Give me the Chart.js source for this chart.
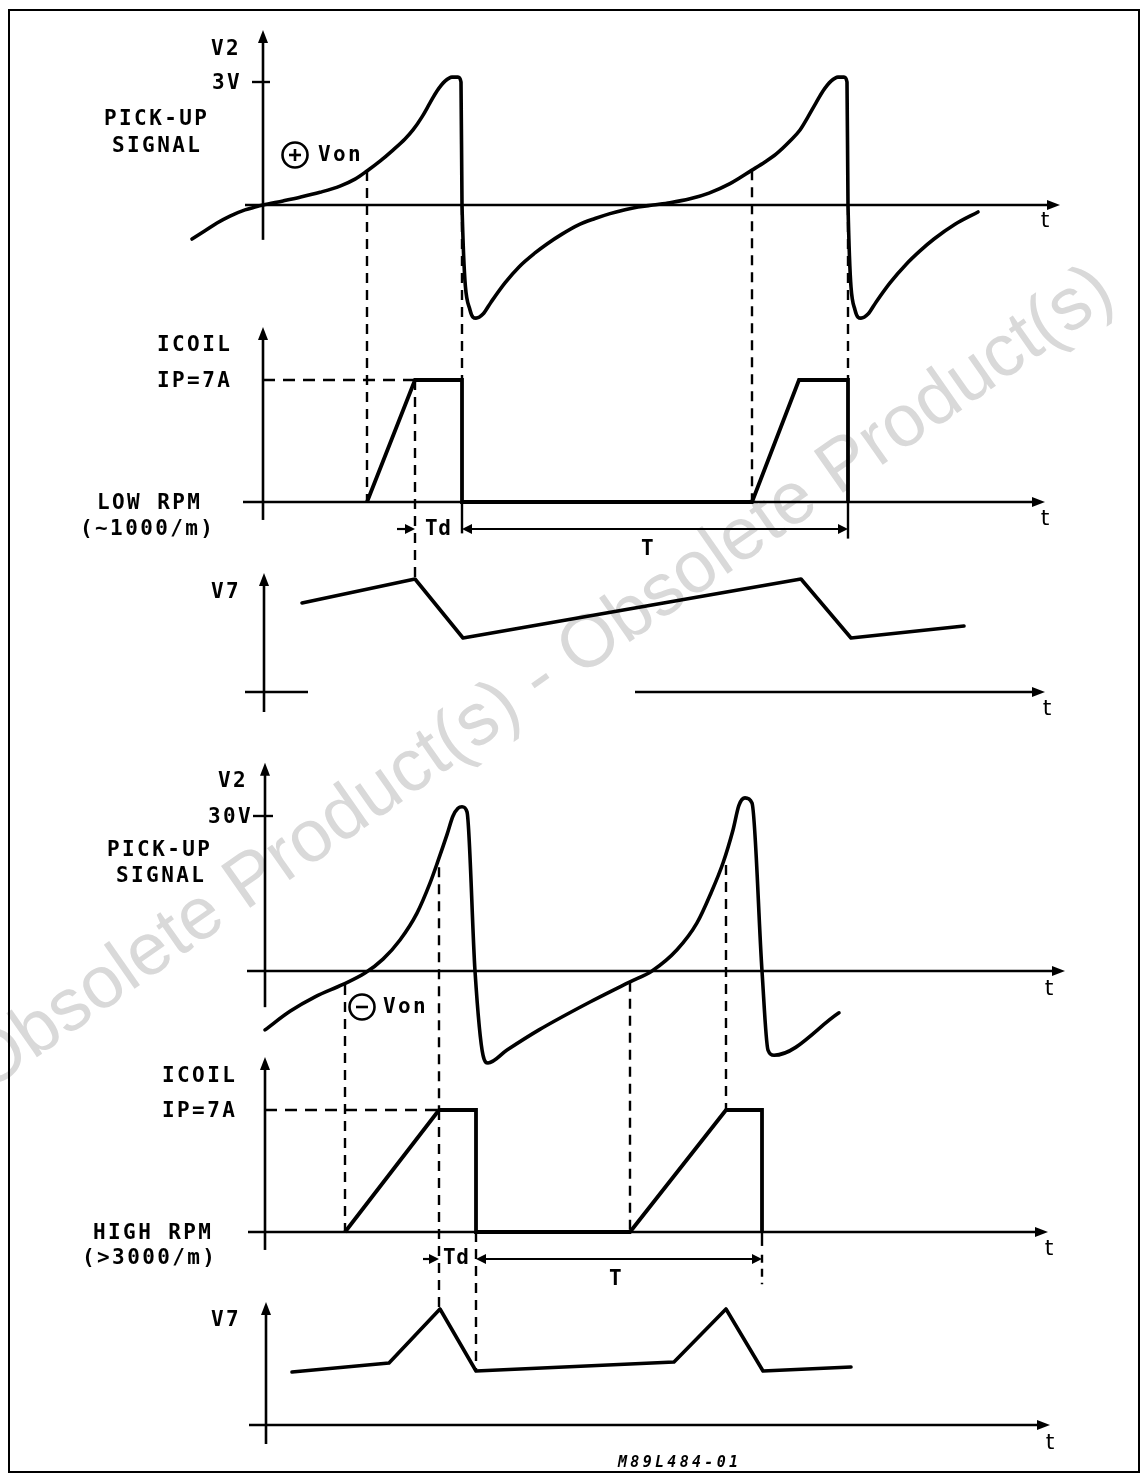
<!DOCTYPE html>
<html><head><meta charset="utf-8">
<script src="https://cdn.jsdelivr.net/npm/chart.js@4.4.1/dist/chart.umd.min.js"></script>
<style>html,body{margin:0;padding:0;background:#fff;overflow:hidden}canvas{display:block}</style>
</head><body>
<canvas id="c" width="1148" height="1480"></canvas>
<script>
// ---------- DATA (time in arbitrary units, t = 0 at the vertical axes) ----------
// LOW RPM (~1000/m)
const lowPickupT = [-71,-58,-46,-33,-18,-8,0,20,37,57,77,92,104,117,130,142,150,159,167,174,182,189,195,198,199,207,213,220,228,242,256,272,284,299,315,332,347,362,375,390,407,427,446,467,489,502,513,527,537,545,553,560,568,575,581,584,585,592,598,605,613,627,643,657,671,692,715];
const lowPickupV = [-0.83,-0.63,-0.44,-0.27,-0.12,-0.05,0,0.10,0.19,0.31,0.46,0.63,0.83,1.07,1.34,1.61,1.83,2.15,2.49,2.78,3.02,3.12,3.12,3.0,0,-2.56,-2.76,-2.66,-2.37,-1.90,-1.51,-1.17,-0.95,-0.71,-0.49,-0.33,-0.21,-0.115,-0.05,0,0.055,0.15,0.29,0.52,0.85,1.05,1.24,1.56,1.83,2.15,2.49,2.78,3.02,3.12,3.12,3.0,0,-2.56,-2.76,-2.66,-2.37,-1.90,-1.45,-1.12,-0.83,-0.47,-0.17];
const lowCoilT = [104,152,199,199,489,536,585,585];
const lowCoilA = [0,7,7,0,0,7,7,0];
const lowV7T = [39,152,200,538,588,701];
const lowV7 = [8.9,11.3,5.4,11.3,5.4,6.6];
const lowVonT = [104,489];
const lowVonV = [0.83,0.85];
const lowLimitT = [152,536];
const lowFireT = [199,585];

// HIGH RPM (>3000/m)
const highPickupT = [2,27,52,80,102,120,137,154,167,175,184,190,195,199,204,212,220,225,244,276,327,367,389,414,434,448,460,470,476,482,489,499,505,511,576];
const highPickupV = [-11.4,-7.8,-5.0,-2.6,-0.4,2.3,6.0,11.2,17.0,21.3,26.4,30.0,31.5,31.8,30.8,0,-16.3,-17.8,-15.3,-11.4,-6.0,-2.1,0,4.1,9.3,15.1,20.9,27.3,32.1,33.5,32.5,0,-15.3,-16.3,-8.1];
const highCoilT = [82,176,213,213,367,463,499,499];
const highCoilA = [0,7,7,0,0,7,7,0];
const highV7T = [29,126,177,213,411,463,500,588];
const highV7 = [5.3,6.2,11.6,5.4,6.3,11.6,5.4,5.8];
const highVonT = [82,367];
const highVonV = [-2.7,-2.1];
const highLimitT = [176,463];
const highLimitV = [20.1,20.5];
const highFireT = [213,499];

// tick values / labels
const lowPickupTick = 3, lowPickupTickLabel = '3V';
const highPickupTick = 30, highPickupTickLabel = '30V';
const coilPeak = 7, coilPeakLabel = 'IP=7A';

// ---------- LAYOUT ----------
const W = 1148, H = 1480, T0PX = 263;
const panel = {
  p1:{base:205,k:41}, c1:{base:502,k:17.43}, v1:{base:692,k:10},
  p2:{base:971,k:5.167}, c2:{base:1232,k:17.43}, v2:{base:1425,k:10}
};
function rng(p){return {min:-(H-p.base)/p.k, max:p.base/p.k};}
function pts(xs,ys){return xs.map((x,i)=>({x:x,y:ys[i]}));}

const line = (data, axis, opts) => Object.assign({
  data, yAxisID:axis, xAxisID:'x', showLine:true, borderColor:'#000', backgroundColor:'#000',
  borderWidth:3.6, pointRadius:0, tension:0, borderCapStyle:'round', borderJoinStyle:'round', fill:false
}, opts||{});

const datasets = [
  line(pts(lowPickupT,lowPickupV),'p1',{cubicInterpolationMode:'monotone'}),
  line(pts(lowCoilT,lowCoilA),'c1',{borderJoinStyle:'miter',borderCapStyle:'butt',borderWidth:3.8}),
  line(pts(lowV7T,lowV7),'v1'),
  line(pts(highPickupT,highPickupV),'p2',{cubicInterpolationMode:'monotone'}),
  line(pts(highCoilT,highCoilA),'c2',{borderJoinStyle:'miter',borderCapStyle:'butt',borderWidth:3.8}),
  line(pts(highV7T,highV7),'v2')
];

// ---------- DRAW HELPERS ----------
function arrow(ctx,x,y,dir,len,half){
  len=len||12; half=half||5;
  ctx.save(); ctx.fillStyle='#000'; ctx.beginPath();
  if(dir==='up'){ctx.moveTo(x,y);ctx.lineTo(x-half,y+len);ctx.lineTo(x+half,y+len);}
  else if(dir==='right'){ctx.moveTo(x,y);ctx.lineTo(x-len,y-half);ctx.lineTo(x-len,y+half);}
  else if(dir==='left'){ctx.moveTo(x,y);ctx.lineTo(x+len,y-half);ctx.lineTo(x+len,y+half);}
  ctx.closePath(); ctx.fill(); ctx.restore();
}
function seg(ctx,x1,y1,x2,y2,w,dash){
  ctx.save(); ctx.strokeStyle='#000'; ctx.lineWidth=w||2.5; ctx.lineCap='butt';
  ctx.setLineDash(dash||[]); ctx.beginPath(); ctx.moveTo(x1,y1); ctx.lineTo(x2,y2); ctx.stroke(); ctx.restore();
}
function txt(ctx,s,x,y,font,spacing,align){
  ctx.save(); ctx.fillStyle='#000'; ctx.font=font; ctx.letterSpacing=(spacing||0)+'px';
  ctx.textAlign=align||'left'; ctx.textBaseline='middle'; ctx.fillText(s,x,y); ctx.restore();
}
const F = 'bold 21px "DejaVu Sans Mono"';
const FT = '22px "DejaVu Sans"';
const DASH = [10,7];

const diagram = {
  id:'diagram',
  beforeDatasetsDraw(chart){
    const ctx = chart.ctx, sx = chart.scales.x;
    const X = t => sx.getPixelForValue(t);
    const Y = (id,v) => chart.scales[id].getPixelForValue(v);
    // watermark
    ctx.save();
    ctx.translate(540,680); ctx.rotate(-35*Math.PI/180);
    ctx.fillStyle='#d9d9d9'; ctx.font='74px "Liberation Sans"'; ctx.textAlign='center'; ctx.textBaseline='middle';
    ctx.fillText('Obsolete Product(s) - Obsolete Product(s)',0,0);
    ctx.restore();

    // axes: [panel, axisT, vBottom, vTop, horizontal ranges]
    const axes = [
      ['p1',0,-0.85,4.27,[[-18,797]]],
      ['c1',0,-1.03,10.04,[[-20,782]]],
      ['v1',1,-2.0,11.9,[[-18,45],[372,782]]],
      ['p2',2,-7.0,40.3,[[-16,802]]],
      ['c2',2,-1.03,10.04,[[-15,785]]],
      ['v2',3,-1.9,12.3,[[-14,787]]]
    ];
    axes.forEach(a=>{
      const id=a[0], ax=X(a[1]);
      seg(ctx,ax,Y(id,a[2]),ax,Y(id,a[3])+8,2.6);
      arrow(ctx,ax,Y(id,a[3]),'up',13,5);
      a[4].forEach((r,i)=>{
        const last = i===a[4].length-1;
        seg(ctx,X(r[0]),Y(id,0),X(r[1])-(last?8:0),Y(id,0),2.4);
        if(last) arrow(ctx,X(r[1]),Y(id,0),'right',13,5);
      });
    });
    // value ticks
    seg(ctx,X(-11),Y('p1',lowPickupTick),X(7),Y('p1',lowPickupTick),2.4);
    seg(ctx,X(-10),Y('p2',highPickupTick),X(10),Y('p2',highPickupTick),2.4);

    // dashed guides LOW
    seg(ctx,X(0),Y('c1',coilPeak),X(lowLimitT[0]),Y('c1',coilPeak),2.4,[12,8]);
    lowVonT.forEach((t,i)=>seg(ctx,X(t),Y('p1',lowVonV[i]),X(t),Y('c1',0),2.4,DASH));
    lowFireT.forEach(t=>seg(ctx,X(t),Y('p1',0),X(t),Y('c1',coilPeak),2.4,DASH));
    seg(ctx,X(lowLimitT[0]),Y('c1',coilPeak),X(lowLimitT[0]),Y('v1',lowV7[1]),2.4,DASH);

    // dashed guides HIGH
    seg(ctx,X(2),Y('c2',coilPeak),X(highLimitT[0]),Y('c2',coilPeak),2.4,[12,8]);
    highVonT.forEach((t,i)=>seg(ctx,X(t),Y('p2',highVonV[i]),X(t),Y('c2',0),2.4,DASH));
    highLimitT.forEach((t,i)=>seg(ctx,X(t),Y('p2',highLimitV[i]),X(t),Y('c2',coilPeak),2.4,DASH));
    seg(ctx,X(highLimitT[0]),Y('c2',coilPeak),X(highLimitT[0]),Y('v2',highV7[2]),2.4,DASH);
    seg(ctx,X(highFireT[0]),Y('c2',0),X(highFireT[0]),Y('v2',highV7[3]),2.4,DASH);
    seg(ctx,X(highFireT[1]),Y('c2',0),X(highFireT[1]),Y('c2',-0.8),2.4);
    seg(ctx,X(highFireT[1]),Y('c2',-1.3),X(highFireT[1]),Y('c2',-3.0),2.4,[8,6]);

    // Td / T markers
    const marks = [['c1',lowLimitT[0],lowFireT,18],['c2',highLimitT[0],highFireT,16]];
    marks.forEach(m=>{
      const id=m[0], yv=Y(id,-1.55);
      seg(ctx,X(m[1]-m[3]),yv,X(m[1])-8,yv,2.2);
      arrow(ctx,X(m[1]),yv,'right',10,5);
      seg(ctx,X(m[2][0])+8,yv,X(m[2][1])-8,yv,2.2);
      arrow(ctx,X(m[2][0]),yv,'left',10,5);
      arrow(ctx,X(m[2][1]),yv,'right',10,5);
    });
    seg(ctx,X(lowFireT[0]),Y('c1',0),X(lowFireT[0]),Y('c1',-1.8),2.4);
    seg(ctx,X(lowFireT[1]),Y('c1',0),X(lowFireT[1]),Y('c1',-2.1),2.4);
  },
  afterDatasetsDraw(chart){
    const ctx = chart.ctx;
    // circled signs
    [[295,155,'+'],[362,1007,'\u2212']].forEach(c=>{
      ctx.save(); ctx.strokeStyle='#000'; ctx.lineWidth=2.6; ctx.beginPath(); ctx.arc(c[0],c[1],12.5,0,Math.PI*2); ctx.stroke();
      seg(ctx,c[0]-6,c[1],c[0]+6,c[1],2.6);
      if(c[2]==='+') seg(ctx,c[0],c[1]-6,c[0],c[1]+6,2.6);
      ctx.restore();
    });
    const L = [
      ['V2',211,50],[lowPickupTickLabel,212,84],['PICK-UP',104,120],['SIGNAL',112,147],['Von',318,156],
      ['ICOIL',157,346],[coilPeakLabel,157,382],['LOW RPM',97,504],['(~1000/m)',80,530],
      ['V7',211,593],
      ['V2',218,782],[highPickupTickLabel,208,818],['PICK-UP',107,851],['SIGNAL',116,877],['Von',383,1008],
      ['ICOIL',162,1077],[coilPeakLabel,162,1112],['HIGH RPM',93,1234],['(>3000/m)',82,1259],
      ['V7',211,1321]
    ];
    L.forEach(l=>txt(ctx,l[0],l[1],l[2],F,2.4));
    txt(ctx,'Td',425,530,F,0.5); txt(ctx,'T',641,550,F,0);
    txt(ctx,'Td',443,1259,F,0.5); txt(ctx,'T',609,1280,F,0);
    [[1045,221],[1045,519],[1047,709],[1049,989],[1049,1249],[1050,1443]].forEach(p=>txt(ctx,'t',p[0],p[1],FT,0,'center'));
    txt(ctx,'M89L484-01',618,1463,'italic bold 15px "DejaVu Sans Mono"',3.3);
    // frame
    ctx.save(); ctx.strokeStyle='#000'; ctx.lineWidth=2; ctx.strokeRect(9,10,1130,1462); ctx.restore();
  }
};

const scales = {x:Object.assign({type:'linear',display:false},{min:-T0PX,max:W-T0PX})};
Object.keys(panel).forEach(k=>{scales[k]=Object.assign({type:'linear',display:false},rng(panel[k]));});

new Chart(document.getElementById('c'),{
  type:'scatter',
  data:{datasets},
  options:{
    responsive:false, animation:false, events:[],
    layout:{padding:0},
    plugins:{legend:{display:false},tooltip:{enabled:false},title:{display:false}},
    scales
  },
  plugins:[diagram]
});
</script>
</body></html>
